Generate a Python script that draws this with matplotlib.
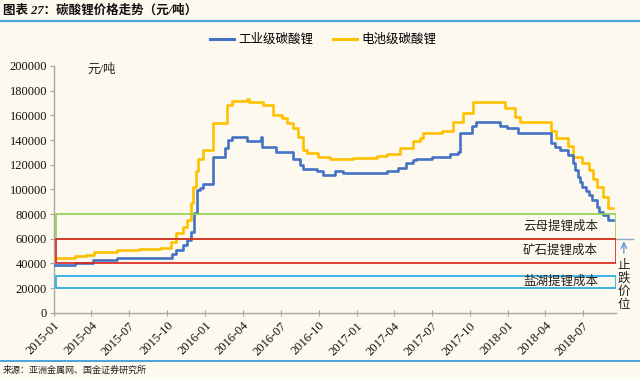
import matplotlib
matplotlib.use("Agg")
import matplotlib.pyplot as plt
import matplotlib.dates as mdates
import matplotlib.transforms as mtransforms
from matplotlib.patches import Rectangle
from matplotlib.lines import Line2D
import pandas as pd

plt.rcParams['font.family'] = ['Liberation Serif', 'Noto Sans CJK SC', 'DejaVu Sans']

# ---------------- data ----------------
ind_dates = ["2015-01-01", "2015-02-20", "2015-04-05", "2015-06-01", "2015-10-14", "2015-10-23",
             "2015-11-08", "2015-11-17", "2015-11-29", "2015-12-06", "2015-12-12", "2015-12-19",
             "2015-12-26", "2016-01-20", "2016-02-17", "2016-02-24", "2016-03-07", "2016-04-12",
             "2016-05-14", "2016-05-17", "2016-06-21", "2016-07-31", "2016-08-16", "2016-08-24",
             "2016-09-27", "2016-10-11", "2016-11-09", "2016-11-29", "2017-03-14", "2017-04-10",
             "2017-05-01", "2017-05-16", "2017-05-25", "2017-07-01", "2017-08-14", "2017-09-02",
             "2017-09-07", "2017-10-06", "2017-10-16", "2017-12-13", "2017-12-30", "2018-01-25",
             "2018-04-16", "2018-04-24", "2018-05-06", "2018-05-25", "2018-06-07", "2018-06-13",
             "2018-06-19", "2018-06-25", "2018-06-30", "2018-07-08", "2018-07-16", "2018-07-24",
             "2018-08-03", "2018-08-10", "2018-08-18", "2018-08-30", "2018-09-11"]
ind_values = [38500, 40000, 42500, 44000, 47500, 51000,
              55000, 59000, 65500, 81000, 99500, 101000,
              104000, 126000, 133500, 140000, 142800, 139000,
              142500, 134000, 130000, 125000, 120000, 116500,
              114500, 112000, 115000, 113000, 115000, 117500,
              121500, 124000, 124500, 126000, 128500, 130500,
              146000, 151000, 155000, 151000, 149500, 145500,
              137500, 134500, 132000, 128000, 121500, 116000,
              110000, 106000, 102000, 99000, 95500, 91000,
              86000, 82000, 79000, 75000, 75000]

bat_dates = ["2015-01-01", "2015-02-20", "2015-03-20", "2015-04-08", "2015-06-03", "2015-07-25",
             "2015-09-15", "2015-10-02", "2015-10-11", "2015-10-23", "2015-11-08", "2015-11-17",
             "2015-11-29", "2015-12-02", "2015-12-10", "2015-12-14", "2015-12-26", "2016-01-20",
             "2016-02-22", "2016-03-05", "2016-04-10", "2016-04-17", "2016-05-16", "2016-05-19",
             "2016-06-12", "2016-07-04", "2016-07-16", "2016-07-31", "2016-08-12", "2016-08-24",
             "2016-09-03", "2016-09-30", "2016-10-28", "2016-12-23", "2017-02-20", "2017-03-14",
             "2017-04-15", "2017-05-16", "2017-06-02", "2017-06-10", "2017-07-27", "2017-08-21",
             "2017-09-15", "2017-10-08", "2017-12-25", "2018-01-19", "2018-01-31", "2018-04-16",
             "2018-04-28", "2018-05-25", "2018-06-07", "2018-06-28", "2018-07-16", "2018-07-25",
             "2018-08-03", "2018-08-18", "2018-08-30", "2018-09-11"]
bat_values = [44000, 46000, 47000, 49500, 51000, 51700,
              52200, 52700, 57600, 64400, 69300, 75000,
              88700, 102000, 115000, 125000, 132000, 153500,
              168500, 171800, 173400, 170500, 171200, 168500,
              160000, 157700, 153600, 149600, 142800, 132000,
              129800, 126600, 124500, 125800, 127000, 128500,
              133400, 138800, 142000, 145500, 147500, 155000,
              162000, 170700, 165800, 159000, 155000, 147000,
              141500, 135000, 126600, 121000, 115800, 108000,
              102000, 94000, 84700, 84700]

series_names = ["工业级碳酸锂", "电池级碳酸锂"]
series_colors = ["#4472C4", "#FFC000"]

cost_low = [60000, 40000, 20000]
cost_high = [80000, 60000, 30000]
cost_labels = ["云母提锂成本", "矿石提锂成本", "盐湖提锂成本"]
cost_colors = ["#92D050", "#E0201B", "#1CA8E8"]

stop_level = 60000
stop_label = "止跌价位"

title = "图表 27：碳酸锂价格走势（元/吨）"
source = "来源：亚洲金属网、国金证券研究所"
unit = "元/吨"

# ---------------- figure ----------------
bg = "#FDF9EF"
fig = plt.figure(figsize=(6.4, 3.79), dpi=100, facecolor=bg)
W, H = 640, 379
ax = fig.add_axes([54 / W, 1 - 312.7 / H, (616 - 54) / W, (312.7 - 66) / H], facecolor=bg)

x0 = pd.Timestamp("2015-01-01")
x1 = pd.Timestamp("2018-09-19")

ax.plot(pd.to_datetime(ind_dates), ind_values, drawstyle="steps-post",
        color=series_colors[0], lw=1.9, label=series_names[0], zorder=4)
ax.plot(pd.to_datetime(bat_dates), bat_values, drawstyle="steps-post",
        color=series_colors[1], lw=1.9, label=series_names[1], zorder=3)

trans = mtransforms.blended_transform_factory(ax.transAxes, ax.transData)
for lo, hi, lab, col in zip(cost_low, cost_high, cost_labels, cost_colors):
    ax.add_patch(Rectangle((0.004, lo), 0.996, hi - lo, transform=trans,
                           fill=False, edgecolor=col, lw=1.2, zorder=5))
    ax.text(0.968, (lo + hi) / 2, lab, transform=trans, ha="right", va="center",
            fontsize=9, color="#222222", zorder=6)

# stop-fall arrow
ax.plot([1.0, 1.03], [stop_level, stop_level], transform=trans, color="#8FA8C8",
        lw=1.0, clip_on=False)
ax.annotate("", xy=(1.014, stop_level), xytext=(1.014, 46000),
            xycoords=trans, textcoords=trans,
            arrowprops=dict(arrowstyle="->", color="#5B8FD0", lw=0.9),
            annotation_clip=False)
ax.text(1.014, 43000, "\n".join(stop_label), transform=trans, ha="center", va="top",
        fontsize=9, color="#222222", linespacing=1.1, clip_on=False)

ax.set_xlim(x0, x1)
ax.set_ylim(0, 200000)
ax.set_yticks(range(0, 200001, 20000))
ax.xaxis.set_major_locator(mdates.MonthLocator(bymonth=[1, 4, 7, 10]))
ax.xaxis.set_major_formatter(mdates.DateFormatter("%Y-%m"))
for lbl in ax.get_xticklabels():
    lbl.set_rotation(45)
    lbl.set_ha("right")
    lbl.set_rotation_mode("anchor")

for s in ["top", "right"]:
    ax.spines[s].set_visible(False)
for s in ["left", "bottom"]:
    ax.spines[s].set_color("#A6A6A6")
    ax.spines[s].set_linewidth(1.0)
ax.tick_params(axis="y", length=3, color="#A6A6A6", labelsize=9, labelcolor="#111111", pad=2)
ax.tick_params(axis="x", length=4, direction="inout", color="#A6A6A6", labelsize=9,
               labelcolor="#111111", pad=3)

ax.text(0.06, 0.985, unit, transform=ax.transAxes, ha="left", va="center",
        fontsize=9, color="#222222")

handles = [Line2D([], [], color=c, lw=2.2) for c in series_colors]
fig.legend(handles, series_names, loc="center", bbox_to_anchor=(0.505, 1 - 40 / H),
           ncol=2, frameon=False, fontsize=9, handlelength=1.9, handletextpad=0.35,
           columnspacing=1.6)

# header / footer
fig.text(3 / W, 1 - 10 / H, title, ha="left", va="center", fontsize=9,
         fontweight="bold", style="italic", color="#111111")
fig.add_artist(Line2D([0, 1], [1 - 20.5 / H, 1 - 20.5 / H], color="#4BA3DA", lw=1.6))
fig.add_artist(Line2D([0, 1], [1 - 361 / H, 1 - 361 / H], color="#4BA3DA", lw=1.4))
fig.text(3 / W, 1 - 370.5 / H, source, ha="left", va="center", fontsize=6.5, color="#222222")

fig.savefig("out.png", dpi=100, facecolor=bg)
